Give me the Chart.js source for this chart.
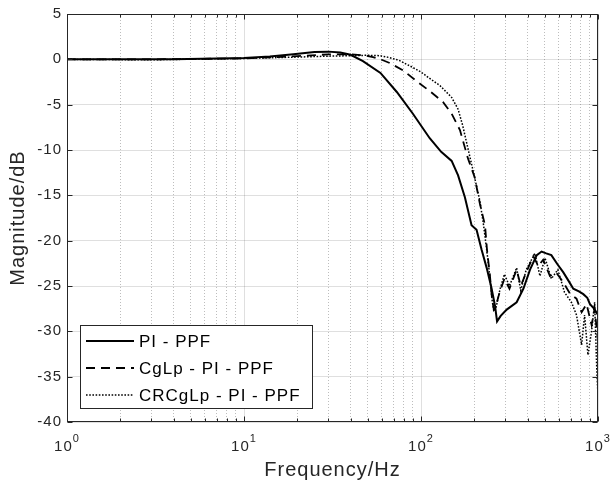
<!DOCTYPE html>
<html lang="en">
<head>
<meta charset="UTF-8" />
<title>Magnitude response</title>
<script src="https://cdn.jsdelivr.net/npm/chart.js"></script>
<style>
  html, body { margin: 0; padding: 0; background: #fff; }
  #wrap { width: 612px; height: 486px; }
</style>
</head>
<body>
<div id="wrap"><canvas id="bode" width="612" height="486"></canvas></div>
<script>
// PI - PPF (solid)
const freqPI = [1, 2, 4, 7, 10, 14, 19, 25, 30, 35, 40, 47, 59, 73, 90, 112, 130, 149, 162, 177, 193, 206, 220, 235, 250, 262, 269, 282, 305, 347, 379, 413, 451, 480, 510, 545, 590, 637, 690, 725, 780, 826, 870, 901, 950, 1000];
const magPI = [0, 0, 0.02, 0.08, 0.15, 0.3, 0.55, 0.8, 0.85, 0.75, 0.5, -0.2, -1.5, -3.6, -6.0, -8.7, -10.2, -11.2, -12.8, -15.2, -18.3, -18.8, -21, -23, -25.2, -27.2, -28.9, -28.3, -27.6, -26.8, -25.3, -23.2, -21.6, -21.2, -21.4, -21.6, -22.6, -23.5, -24.6, -25.3, -25.6, -25.9, -26.3, -27.0, -27.5, -28.2];

// CgLp - PI - PPF (dashed)
const freqCg = [1, 3, 10, 20, 30, 40, 47, 53.5, 60, 66.5, 79, 95, 112, 133, 149, 166, 184, 201, 215, 230, 236, 245, 252, 258, 265, 278, 296, 316, 347, 366, 393, 431, 460, 490, 535, 580, 637, 697, 756, 808, 862, 920, 957, 1000];
const magCg = [0, 0, 0.1, 0.35, 0.55, 0.55, 0.45, 0.25, -0.05, -0.4, -1.2, -2.45, -3.5, -4.7, -6.0, -7.8, -10.9, -13, -15.9, -18.3, -21, -23.8, -26.4, -27.6, -27.2, -25.7, -24.2, -25.3, -23.2, -25, -23.5, -21.7, -22.8, -22.1, -23.9, -23.5, -24.6, -25.9, -26.4, -27.9, -27, -29.3, -27.5, -31.1];

// CRCgLp - PI - PPF (dotted)
const freqCR = [1, 3, 10, 20, 30, 40, 50, 58.5, 66, 75, 90, 100, 110, 128, 149, 162, 172, 184, 197, 215, 225, 235, 245, 252, 258, 266, 280, 296, 316, 347, 366, 393, 440, 470, 502, 545, 593, 647, 708, 756, 808, 840, 877, 920, 957, 985, 1000];
const magCR = [0, -0.05, 0.1, 0.25, 0.35, 0.4, 0.45, 0.4, 0.2, -0.1, -0.9, -1.4, -2.0, -2.9, -4.2, -5.5, -7.3, -9.8, -12.3, -15.6, -18.1, -21, -24, -26.5, -27.8, -27.3, -25.3, -23.7, -25, -23, -25.5, -23.2, -21.4, -23.9, -21.9, -24.2, -23.2, -25.7, -26.8, -28.2, -31.5, -28.2, -32.6, -30, -26.8, -34.4, -37.1];

const seriesLabels = ["PI - PPF", "CgLp - PI - PPF", "CRCgLp - PI - PPF"];
const xDecades = [1, 10, 100, 1000];
const xExponents = ["0", "1", "2", "3"];
const yMin = -40, yMax = 5, yStep = 5;

const FONT = '"Liberation Sans", Arial, sans-serif';
const AXIS_COLOR = "#262626";

// all log ticks 1..9 per decade, labels only on decades
const xAllTicks = [];
xDecades.slice(0, -1).forEach((d) => {
  for (let k = 1; k < 10; k++) xAllTicks.push(k * d);
});
xAllTicks.push(xDecades[xDecades.length - 1]);
const isDecade = (v) => xDecades.includes(v);

const toPoints = (fs, ms) => fs.map((f, i) => ({ x: f, y: ms[i] }));

const textSpacing = {
  id: "textSpacing",
  beforeDraw(chart) {
    chart.ctx.letterSpacing = "1px";
  },
};

// box, inward ticks and 10^n labels
const frame = {
  id: "frame",
  afterDraw(chart) {
    const { ctx, chartArea: a, scales } = chart;
    const L = Math.round(a.left) + 0.5, R = Math.round(a.right) - 0.5;
    const T = Math.round(a.top) + 0.5, B = Math.round(a.bottom) - 0.5;
    ctx.save();
    ctx.strokeStyle = AXIS_COLOR;
    ctx.lineWidth = 1;
    ctx.beginPath();
    xAllTicks.forEach((v) => {
      const px = Math.round(scales.x.getPixelForValue(v)) + 0.5;
      const len = isDecade(v) ? 5 : 3;
      ctx.moveTo(px, B); ctx.lineTo(px, B - len);
      ctx.moveTo(px, T); ctx.lineTo(px, T + len);
    });
    scales.y.ticks.forEach((t) => {
      const py = Math.round(scales.y.getPixelForValue(t.value)) + 0.5;
      ctx.moveTo(L, py); ctx.lineTo(L + 5, py);
      ctx.moveTo(R, py); ctx.lineTo(R - 5, py);
    });
    ctx.stroke();
    ctx.strokeRect(L, T, R - L, B - T);

    ctx.fillStyle = AXIS_COLOR;
    ctx.letterSpacing = "1px";
    ctx.textBaseline = "alphabetic";
    ctx.textAlign = "left";
    xDecades.forEach((v, i) => {
      const px = scales.x.getPixelForValue(v);
      ctx.font = "15px " + FONT;
      const wBase = ctx.measureText("10").width;
      ctx.font = "11px " + FONT;
      const wExp = ctx.measureText(xExponents[i]).width;
      const x0 = px - (wBase + wExp) / 2;
      ctx.font = "15px " + FONT;
      ctx.fillText("10", x0, a.bottom + 29);
      ctx.font = "11px " + FONT;
      ctx.fillText(xExponents[i], x0 + wBase, a.bottom + 20);
    });
    ctx.restore();
  },
};

const boxLegend = {
  id: "boxLegend",
  afterDatasetsDraw(chart) {
    const { ctx, chartArea: a } = chart;
    const x0 = Math.round(a.left) + 13, y0 = Math.round(a.bottom) - 97;
    const w = 232, h = 83;
    ctx.save();
    ctx.fillStyle = "#fff";
    ctx.fillRect(x0, y0, w, h);
    ctx.strokeStyle = AXIS_COLOR;
    ctx.lineWidth = 1;
    ctx.strokeRect(x0 + 0.5, y0 + 0.5, w, h);
    chart.data.datasets.forEach((ds, i) => {
      const cy = y0 + 16 + i * 27;
      ctx.beginPath();
      ctx.setLineDash(ds.borderDash || []);
      ctx.lineWidth = ds.borderWidth;
      ctx.strokeStyle = ds.borderColor;
      ctx.moveTo(x0 + 6, cy);
      ctx.lineTo(x0 + 54, cy);
      ctx.stroke();
      ctx.setLineDash([]);
      ctx.fillStyle = "#000";
      ctx.font = "17px " + FONT;
      ctx.letterSpacing = "1px";
      ctx.textBaseline = "middle";
      ctx.fillText(ds.label, x0 + 59, cy + 1);
    });
    ctx.restore();
  },
};

new Chart(document.getElementById("bode"), {
  type: "line",
  data: {
    datasets: [
      { label: seriesLabels[0], data: toPoints(freqPI, magPI), borderColor: "#000", borderWidth: 2, borderDash: [] },
      { label: seriesLabels[1], data: toPoints(freqCg, magCg), borderColor: "#000", borderWidth: 1.8, borderDash: [9, 6] },
      { label: seriesLabels[2], data: toPoints(freqCR, magCR), borderColor: "#000", borderWidth: 1.5, borderDash: [1.6, 1.6] },
    ],
  },
  options: {
    responsive: false,
    animation: false,
    devicePixelRatio: 1,
    layout: { padding: { top: 7, right: 14, left: 0, bottom: 0 } },
    elements: { point: { radius: 0 }, line: { tension: 0, fill: false } },
    plugins: { legend: { display: false }, tooltip: { enabled: false } },
    scales: {
      x: {
        type: "logarithmic",
        min: 1,
        max: 1000,
        afterBuildTicks: (s) => { s.ticks = xAllTicks.map((v) => ({ value: v })); },
        afterFit: (s) => { s.height = 64; },
        ticks: { display: false },
        grid: {
          drawTicks: false,
          lineWidth: 1,
          color: (c) => (c.tick && isDecade(c.tick.value) ? "rgba(38,38,38,0.15)" : "rgba(38,38,38,0.3)"),
        },
        border: {
          display: false,
          dash: (c) => (c.tick && !isDecade(c.tick.value) ? [1, 2] : []),
        },
        title: {
          display: true,
          text: "Frequency/Hz",
          color: AXIS_COLOR,
          font: { family: FONT, size: 20 },
          padding: { top: 0, bottom: 4 },
        },
      },
      y: {
        type: "linear",
        min: yMin,
        max: yMax,
        afterFit: (s) => { s.width = 67; },
        ticks: {
          stepSize: yStep,
          color: AXIS_COLOR,
          font: { family: FONT, size: 15 },
          padding: 5,
        },
        grid: { drawTicks: false, lineWidth: 1, color: "rgba(38,38,38,0.15)" },
        border: { display: false },
        title: {
          display: true,
          text: "Magnitude/dB",
          color: AXIS_COLOR,
          font: { family: FONT, size: 20 },
          padding: { top: 6, bottom: 0 },
        },
      },
    },
  },
  plugins: [textSpacing, boxLegend, frame],
});
</script>
</body>
</html>
